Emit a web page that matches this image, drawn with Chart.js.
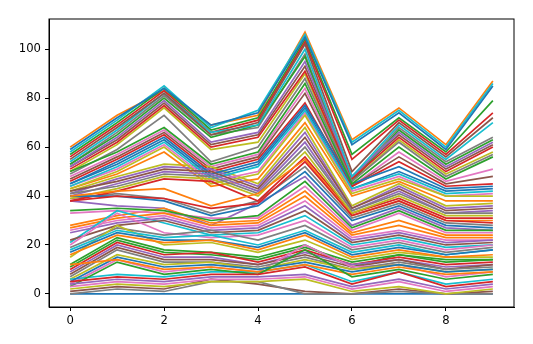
<!DOCTYPE html>
<html>
<head>
<meta charset="utf-8">
<script src="https://cdn.jsdelivr.net/npm/chart.js@4"></script>
<style>
  html, body { margin: 0; padding: 0; background: #fff; }
  canvas { display: block; }
</style>
</head>
<body>
<canvas id="myChart" width="533" height="344"></canvas>
<script>
// x positions, tick labels
const xValues = [0, 1, 2, 3, 4, 5, 6, 7, 8, 9];
const xTicks = [0, 2, 4, 6, 8];
const yTicks = [0, 20, 40, 60, 80, 100];

// one row per line, values at x = 0..9
const lineValues = [
  [0, 0, 0, 0, 0, 0, 0, 0, 0, 0],
  [60, 73, 83, 69, 73, 107, 63, 76, 61, 87],
  [57, 70, 84, 67, 72, 104, 57, 72, 58, 79],
  [56, 69, 83, 66, 71, 103, 55, 71, 57, 74],
  [38, 36, 35, 28, 37, 48, 28, 35, 27, 26],
  [52, 63, 78, 61, 65, 93, 48, 65, 51, 61],
  [48, 57, 67, 52, 57, 84, 44, 58, 46, 51],
  [53, 66, 81, 65, 68, 98, 47, 68, 54, 64],
  [50, 61, 76, 59, 62, 90, 46, 63, 49, 58],
  [58, 71, 85, 68, 75, 106, 62, 75, 60, 86],
  [59, 72, 84, 69, 74, 105, 61, 74, 59, 85],
  [28, 32, 35, 29, 30, 42, 25, 30, 24, 24],
  [53, 65, 80, 64, 69, 97, 46, 67, 53, 63],
  [51, 62, 77, 60, 64, 91, 47, 64, 50, 60],
  [52, 64, 79, 62, 66, 95, 48, 66, 52, 62],
  [47, 56, 66, 51, 56, 82, 44, 56, 45, 48],
  [33, 34, 33, 31, 31, 44, 26, 33, 25, 25],
  [49, 59, 73, 54, 60, 88, 46, 62, 48, 57],
  [42, 48, 53, 52, 45, 68, 36, 45, 36, 37],
  [54, 67, 82, 66, 69, 100, 48, 69, 55, 70],
  [45, 53, 63, 48, 53, 76, 43, 50, 42, 43],
  [43, 49, 58, 44, 47, 70, 40, 46, 38, 38],
  [34, 35, 34, 30, 32, 46, 27, 34, 26, 26],
  [46, 55, 65, 50, 55, 78, 44, 54, 44, 45],
  [41, 47, 52, 51, 44, 66, 35, 44, 35, 36],
  [55, 68, 82, 65, 70, 102, 50, 70, 56, 72],
  [44, 51, 61, 46, 50, 74, 42, 48, 40, 41],
  [39, 41, 39, 33, 38, 52, 31, 37, 29, 28],
  [43, 50, 60, 45, 49, 73, 41, 47, 40, 40],
  [44, 52, 62, 47, 52, 75, 43, 49, 41, 42],
  [45, 54, 64, 49, 54, 77, 45, 52, 43, 44],
  [27, 31, 33, 28, 29, 40, 24, 28, 23, 23],
  [50, 58, 68, 53, 58, 86, 45, 60, 47, 56],
  [38, 42, 47, 46, 38, 56, 33, 39, 31, 31],
  [40, 45, 50, 49, 42, 62, 34, 42, 33, 34],
  [42, 46, 51, 50, 43, 64, 35, 43, 34, 35],
  [26, 30, 32, 27, 28, 38, 23, 26, 22, 22],
  [41, 44, 49, 48, 41, 60, 34, 41, 33, 33],
  [39, 43, 48, 47, 40, 58, 33, 40, 32, 32],
  [21, 34, 29, 24, 25, 32, 20, 23, 19, 20],
  [40, 40, 38, 32, 36, 50, 30, 36, 28, 27],
  [40, 42, 43, 36, 41, 55, 32, 38, 30, 30],
  [12, 23, 18, 17, 15, 20, 11, 16, 14, 14],
  [38, 40, 39, 35, 37, 54, 32, 38, 30, 29],
  [25, 29, 31, 26, 27, 36, 22, 25, 21, 22],
  [22, 28, 30, 25, 26, 34, 21, 24, 20, 21],
  [20, 33, 25, 23, 24, 30, 19, 22, 18, 20],
  [19, 27, 24, 26, 22, 28, 18, 21, 17, 19],
  [15, 28, 20, 21, 17, 22, 14, 17, 15, 15],
  [18, 26, 23, 24, 20, 26, 17, 20, 16, 18],
  [17, 25, 22, 22, 19, 25, 16, 19, 16, 18],
  [16, 24, 21, 22, 18, 24, 15, 18, 15, 16],
  [11, 22, 17, 16, 14, 19, 13, 16, 13, 14],
  [10, 21, 16, 17, 13, 18, 12, 15, 12, 13],
  [9, 20, 15, 15, 12, 17, 12, 14, 11, 12],
  [8, 19, 14, 14, 12, 16, 11, 14, 10, 12],
  [4, 14, 9, 11, 9, 20, 11, 12, 7, 9],
  [7, 18, 13, 13, 11, 15, 10, 13, 10, 11],
  [6, 16, 12, 13, 10, 14, 10, 12, 9, 10],
  [6, 8, 7, 9, 9, 12, 5, 9, 4, 6],
  [5, 15, 11, 12, 10, 13, 9, 12, 9, 10],
  [12, 14, 10, 11, 9, 12, 8, 11, 8, 9],
  [3, 13, 8, 10, 8, 18, 7, 10, 6, 8],
  [5, 7, 6, 8, 8, 11, 4, 9, 3, 5],
  [4, 6, 5, 7, 7, 8, 3, 6, 2, 4],
  [1, 3, 2, 6, 4, 1, 0, 2, 0, 1],
  [3, 5, 4, 6, 6, 7, 2, 5, 1, 3],
  [0, 2, 1, 5, 5, 0, 0, 1, 0, 0],
  [2, 4, 3, 5, 5, 6, 1, 3, 0, 2]
];

const palette = ['#1f77b4', '#ff7f0e', '#2ca02c', '#d62728', '#9467bd',
                 '#8c564b', '#e377c2', '#7f7f7f', '#bcbd22', '#17becf'];

const datasets = lineValues.map((row, i) => ({
  data: row.map((v, j) => ({ x: xValues[j], y: v })),
  borderColor: palette[i % 10],
  backgroundColor: palette[i % 10],
  borderWidth: 1.7,
  pointRadius: 0,
  tension: 0,
  fill: false,
  order: lineValues.length - i   // later rows on top, like matplotlib
}));

const frame = {
  id: 'frame',
  afterDraw(chart) {
    const { ctx, chartArea: a } = chart;
    ctx.save();
    ctx.strokeStyle = '#000';
    ctx.lineWidth = 1;
    ctx.strokeRect(a.left, a.top, a.right - a.left, a.bottom - a.top);
    ctx.restore();
  }
};

const tickFont = { family: 'DejaVu Sans', size: 11.6 };

const config = {
  type: 'line',
  data: { datasets: datasets },
  options: {
    responsive: false,
    animation: false,
    events: [],
    layout: { padding: { left: 0, right: 19, top: 19, bottom: 0 } },
    plugins: { legend: { display: false }, tooltip: { enabled: false } },
    scales: {
      x: {
        type: 'linear',
        min: -0.45,
        max: 9.45,
        afterBuildTicks: s => { s.ticks = xTicks.map(v => ({ value: v })); },
        afterFit: s => { s.height = 37; },
        ticks: { color: '#000', font: tickFont, padding: 3, maxRotation: 0 },
        grid: { drawOnChartArea: false, drawTicks: true, tickLength: 4, tickColor: '#000', tickWidth: 1 },
        border: { display: true, color: '#000', width: 1 }
      },
      y: {
        type: 'linear',
        min: -5.35,
        max: 112.35,
        afterBuildTicks: s => { s.ticks = yTicks.map(v => ({ value: v })); },
        afterFit: s => { s.width = 49; },
        ticks: { color: '#000', font: tickFont, padding: 4 },
        grid: { drawOnChartArea: false, drawTicks: true, tickLength: 4, tickColor: '#000', tickWidth: 1 },
        border: { display: true, color: '#000', width: 1 }
      }
    }
  },
  plugins: [frame]
};

const myChart = new Chart(document.getElementById('myChart'), config);
</script>
</body>
</html>
